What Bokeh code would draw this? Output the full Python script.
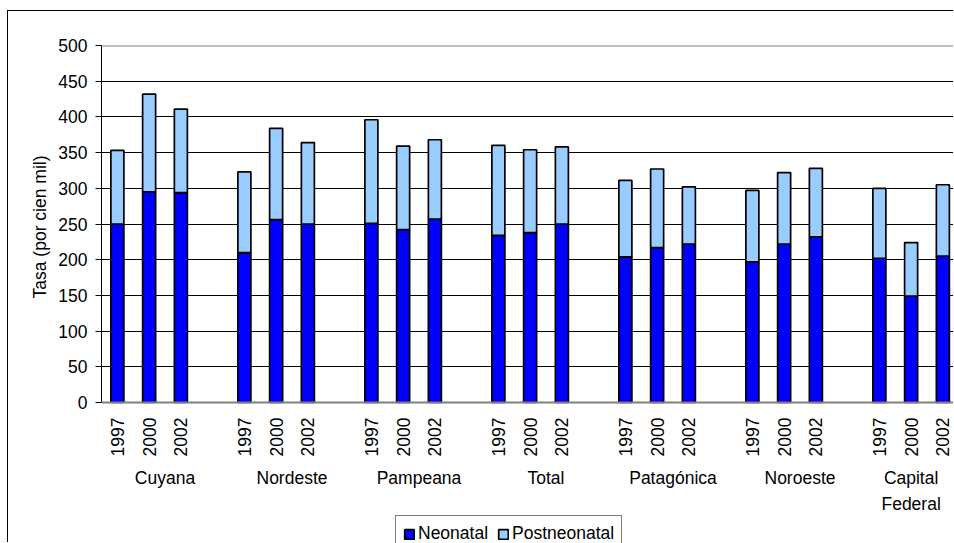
import math
from bokeh.plotting import figure
from bokeh.models import (Range1d, FixedTicker, Span, Legend, LegendItem,
                          ColumnDataSource, Title)
from bokeh.core.properties import value
from bokeh.embed import file_html
from bokeh.resources import INLINE

# Infant mortality rate by region (per 100,000), split into neonatal / postneonatal
regions = ["Cuyana", "Nordeste", "Pampeana", "Total", "Patagónica", "Noroeste", "Capital\nFederal"]
years = ["1997", "2000", "2002"]

neonatal = [250, 295, 294,
            210, 256, 250,
            251, 242, 257,
            234, 238, 250,
            204, 217, 222,
            197, 222, 232,
            202, 149, 205]

postneonatal = [103, 137, 117,
                113, 128, 114,
                145, 117, 111,
                126, 116, 108,
                107, 110, 80,
                100, 100, 96,
                98, 75, 100]

y_ticks = list(range(0, 501, 50))

FONT = "Liberation Sans"
FS = "17.5px"

# each region takes three year slots plus one empty slot
xs, yr_text = [], []
for g in range(len(regions)):
    for k, yr in enumerate(years):
        xs.append(g * 4 + k)
        yr_text.append(yr)
# region names are centred over their four slots; the last one is pulled
# in over its bars so it stays on the page
group_x = [g * 4 + 1.5 for g in range(len(regions))]
group_x[-1] = (len(regions) - 1) * 4 + 1

totals = [n + q for n, q in zip(neonatal, postneonatal)]
src = ColumnDataSource(dict(x=xs, neo=neonatal, total=totals))

# layout (window pixels): plot area from x=101 to the right edge,
# value 500 at y=45 and value 0 at y=402; the frame runs down to the
# bottom of the page so the category labels and legend live inside it
off_x, off_y = 8, 11
W, H = 954, 543
slot_px = 31.75
frame_left = 101
y_top_px, y_zero_px = 45, 402
px_per_unit = (y_zero_px - y_top_px) / 500.0


def y_at(px):
    return (y_zero_px - px) / px_per_unit


p = figure(width=W - off_x, height=H - off_y,
           x_range=Range1d(-0.5, -0.5 + (W - frame_left) / slot_px),
           y_range=Range1d(y_at(H), 500),
           output_backend="svg", toolbar_location=None,
           min_border_left=frame_left - off_x, min_border_right=0,
           min_border_top=y_top_px - off_y, min_border_bottom=0,
           background_fill_color="white", border_fill_color="white",
           outline_line_color=None)
# outer chart frame (left and top edges are inside the window)
p.styles = {"margin-left": "7px", "margin-top": "10px",
            "border-left": "1px solid #000000", "border-top": "1px solid #000000"}

# grid
p.xgrid.visible = False
p.ygrid.ticker = FixedTicker(ticks=y_ticks)
p.ygrid.grid_line_color = "#000000"
p.ygrid.grid_line_width = 1

bar_w = 0.41
r_neo = p.vbar(x="x", bottom=0, top="neo", width=bar_w, source=src,
               fill_color="#0000FF", line_color="#000000", line_width=1.7)
r_post = p.vbar(x="x", bottom="neo", top="total", width=bar_w, source=src,
                fill_color="#99CCFF", line_color="#000000", line_width=1.7)

# plot-area top border and category axis line
p.add_layout(Span(location=500, dimension="width", line_color="#808080", line_width=2))
p.add_layout(Span(location=0, dimension="width", line_color="#808080", line_width=2))

# y axis
ya = p.yaxis[0]
ya.bounds = (0, 500)
ya.ticker = FixedTicker(ticks=y_ticks)
ya.minor_tick_line_color = None
ya.major_tick_out = 6
ya.major_tick_in = 0
ya.major_tick_line_color = "#000000"
ya.axis_line_color = "#000000"
ya.major_label_standoff = 8
ya.major_label_text_font = FONT
ya.major_label_text_font_size = FS
ya.major_label_text_color = "#000000"

# y axis title, centred on the 0-500 span
p.add_layout(Title(text="Tasa (por cien mil)", align="right", offset=110,
                   text_font=FONT, text_font_size=FS, text_font_style="normal",
                   text_color="#000000", standoff=12), "left")

p.xaxis.visible = False

# year labels, reading upward, under each bar
p.text(x=xs, y=[y_at(417)] * len(xs), text=yr_text, angle=math.pi / 2,
       text_align="right", text_baseline="middle",
       text_font=value(FONT), text_font_size=value(FS), text_color="#000000")

# region labels
p.text(x=group_x, y=[y_at(467)] * len(group_x), text=regions,
       text_align="center", text_baseline="top", text_line_height=1.3,
       text_font=value(FONT), text_font_size=value(FS), text_color="#000000")

# legend under the chart
legend = Legend(items=[LegendItem(label="Neonatal", renderers=[r_neo]),
                       LegendItem(label="Postneonatal", renderers=[r_post])],
                orientation="horizontal", location=(395 - frame_left, (H - 518) - 34),
                glyph_width=12, glyph_height=12, label_standoff=3,
                spacing=9, padding=7, margin=0,
                label_text_font=FONT, label_text_font_size=FS,
                label_text_color="#000000",
                border_line_color="#000000", border_line_width=1,
                background_fill_color="white", background_fill_alpha=1)
p.add_layout(legend, "center")

open("out.html", "w").write(file_html(p, INLINE))
